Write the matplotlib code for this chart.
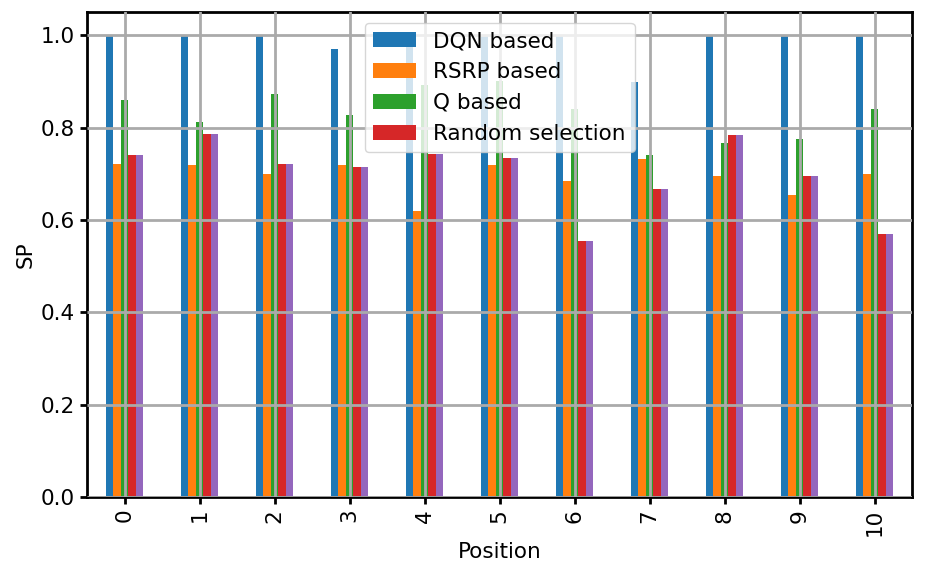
import numpy as np
import matplotlib
matplotlib.use("Agg")
import matplotlib.pyplot as plt

# SP per position for each selection scheme
positions = list(range(11))
dqn = [1.0, 1.0, 1.0, 0.97, 0.975, 1.0, 1.0, 0.898, 1.0, 1.0, 1.0]
rsrp = [0.722, 0.719, 0.70, 0.719, 0.619, 0.719, 0.684, 0.731, 0.696, 0.653, 0.70]
q_based = [0.860, 0.811, 0.872, 0.828, 0.892, 0.90, 0.840, 0.740, 0.766, 0.776, 0.841]
random_sel = [0.740, 0.787, 0.720, 0.714, 0.742, 0.735, 0.554, 0.666, 0.783, 0.695, 0.570]
random_dup = list(random_sel)  # 5th (unlabelled) series, same values

series = [dqn, rsrp, q_based, random_sel, random_dup]
labels = ["DQN based", "RSRP based", "Q based", "Random selection", "_nolegend_"]
colors = ["#1f77b4", "#ff7f0e", "#2ca02c", "#d62728", "#9467bd"]

plt.rcParams['font.size'] = 15.5
fig = plt.figure(figsize=(9.26, 5.73), dpi=100)
ax = fig.add_axes([0.094, 0.1326, 0.891, 0.8464])

x = np.arange(len(positions))
w = 0.1
for k, (vals, lab, col) in enumerate(zip(series, labels, colors)):
    ax.bar(x + (k - 2) * w, vals, width=w, color=col, label=lab)

ax.set_xlim(-0.5, 10.5)
ax.set_ylim(0, 1.05)
ax.set_xticks(x)
ax.set_xticklabels([str(p) for p in positions], rotation=90)
ax.set_yticks([0.0, 0.2, 0.4, 0.6, 0.8, 1.0])
ax.set_xlabel("Position")
ax.set_ylabel("SP")

# grid drawn on top of the bars
ax.set_axisbelow(False)
ax.grid(True, color="#aaaaaa", linewidth=2)

for s in ax.spines.values():
    s.set_linewidth(2)
ax.tick_params(width=2, length=5)

ax.legend(loc="upper center", fontsize=15.5)

fig.savefig("out.png", dpi=100)
